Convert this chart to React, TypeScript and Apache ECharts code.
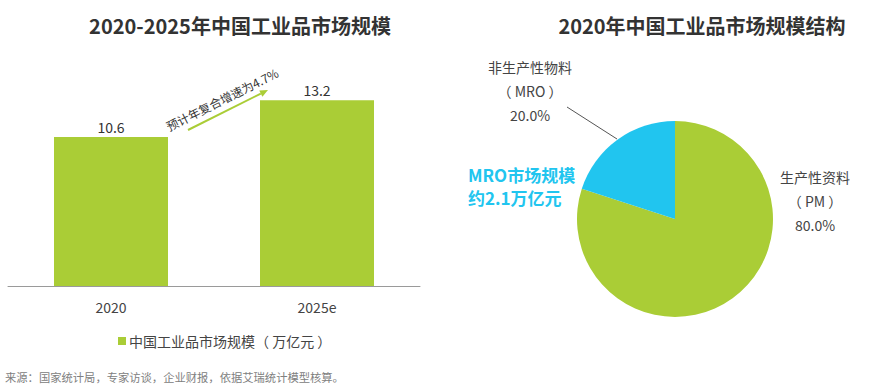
import React, { useEffect, useRef } from "react";
import * as echarts from "echarts";

const barCategories = ["2020", "2025e"];
const barValues = [10.6, 13.2];
const barSeriesName = "中国工业品市场规模（ 万亿元 ）";
const pieNames = ["生产性资料\n（ PM ）", "非生产性物料\n（ MRO ）"];
const pieValues = [80, 20];
const titleLeft = "2020-2025年中国工业品市场规模";
const titleRight = "2020年中国工业品市场规模结构";
const cagrText = "预计年复合增速为4.7%";
const mroLines = ["MRO市场规模", "约2.1万亿元"];
const sourceText = "来源：国家统计局，专家访谈，企业财报，依据艾瑞统计模型核算。";

const GREEN = "#aacd36";
const CYAN = "#21c5ef";
const FONT = "'Noto Sans CJK SC', 'Noto Sans', sans-serif";

export default function App() {
  const ref = useRef<HTMLDivElement>(null);
  useEffect(() => {
    const chart = echarts.init(ref.current!, undefined, { renderer: "svg" });
    const tip = [268, 90];
    const start = [188, 130];
    const dx = tip[0] - start[0];
    const dy = tip[1] - start[1];
    const len = Math.sqrt(dx * dx + dy * dy);
    const ux = dx / len, uy = dy / len;
    const bx = tip[0] - ux * 8, by = tip[1] - uy * 8;
    const px = -uy * 3.5, py = ux * 3.5;
    chart.setOption({
      animation: false,
      textStyle: { fontFamily: FONT },
      title: [
        { text: titleLeft, left: 235, top: 10, textAlign: "center",
          textStyle: { fontSize: 20, fontWeight: "bold", color: "#333", fontFamily: FONT } },
        { text: titleRight, left: 697, top: 10, textAlign: "center",
          textStyle: { fontSize: 20, fontWeight: "bold", color: "#333", fontFamily: FONT } },
      ],
      legend: {
        data: [barSeriesName],
        left: 113,
        top: 329,
        icon: "rect",
        itemWidth: 8,
        itemHeight: 8,
        itemGap: 4,
        textStyle: { fontSize: 14, color: "#444", fontFamily: FONT, padding: [0, 0, 0, -2] },
      },
      grid: { left: 8, right: 460, top: 75, bottom: 103, containLabel: false },
      xAxis: {
        type: "category",
        data: barCategories,
        axisTick: { show: false },
        axisLine: { lineStyle: { color: "#9a9a9a" } },
        axisLabel: { fontSize: 14, color: "#444", margin: 14, fontFamily: FONT },
      },
      yAxis: { type: "value", min: 0, max: 15, show: false, splitLine: { show: false } },
      series: [
        {
          type: "bar",
          name: barSeriesName,
          data: barValues,
          barWidth: 114,
          itemStyle: { color: GREEN },
          label: { show: true, position: "top", distance: 3, fontSize: 14, color: "#333", fontFamily: FONT },
        },
        {
          type: "pie",
          center: [675, 219],
          radius: 98,
          startAngle: 90,
          clockwise: true,
          data: pieNames.map((n, i) => ({
            name: n,
            value: pieValues[i],
            itemStyle: { color: i === 0 ? GREEN : CYAN },
          })),
          label: {
            show: true,
            formatter: (p: any) => `${p.name}\n${p.value.toFixed(1)}%`,
            fontSize: 14,
            color: "#444",
            lineHeight: 24,
            align: "center",
            fontFamily: FONT,
          },
          labelLine: { show: false },
          labelLayout: (params: any) =>
            params.dataIndex === 1
              ? { x: 530, y: 91, align: "center", verticalAlign: "middle" }
              : { x: 815, y: 201, align: "center", verticalAlign: "middle" },
          emphasis: { disabled: true },
        },
      ],
      graphic: [
        { type: "line", shape: { x1: start[0], y1: start[1], x2: bx, y2: by },
          style: { stroke: GREEN, lineWidth: 2 } },
        { type: "polygon", shape: { points: [[tip[0], tip[1]], [bx + px, by + py], [bx - px, by - py]] },
          style: { fill: GREEN } },
        { type: "text", x: 222, y: 99, rotation: Math.atan2(-dy, dx),
          style: { text: cagrText, fontSize: 12, fill: "#333", fontFamily: FONT,
            textAlign: "center", textVerticalAlign: "middle" } },
        { type: "line", shape: { x1: 567, y1: 107, x2: 617, y2: 139 },
          style: { stroke: "#555", lineWidth: 1 } },
        ...mroLines.map((t, i) => ({
          type: "text", x: 468, y: 174 + i * 23,
          style: { text: t, fontSize: 17, fontWeight: "bold", fill: CYAN,
            fontFamily: FONT, textAlign: "left", textVerticalAlign: "middle" },
        })),
        { type: "text", x: 5, y: 371,
          style: { text: sourceText, fontSize: 11.3, fill: "#808080", fontFamily: FONT,
            textAlign: "left", textVerticalAlign: "top" } },
      ],
    });
    return () => chart.dispose();
  }, []);
  return (
    <div
      ref={ref}
      style={{ position: "fixed", left: 0, top: 0, width: 880, height: 389, background: "#fff" }}
    />
  );
}
